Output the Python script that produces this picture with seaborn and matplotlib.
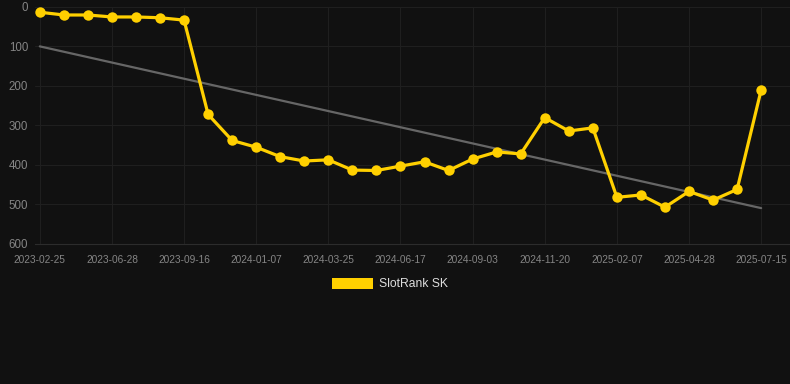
import numpy as np
import pandas as pd
import matplotlib
matplotlib.use("Agg")
import matplotlib.pyplot as plt
import seaborn as sns
from matplotlib.patches import Patch

# ---- data ----
ranks = [14, 21, 21, 26, 26, 28, 34, 273, 339, 356, 380, 391, 388, 414, 415,
         404, 393, 415, 386, 368, 373, 281, 315, 307, 483, 477, 508, 468, 490,
         463, 211]
tick_labels = ["2023-02-25", "2023-06-28", "2023-09-16", "2024-01-07",
               "2024-03-25", "2024-06-17", "2024-09-03", "2024-11-20",
               "2025-02-07", "2025-04-28", "2025-07-15"]
y_ticks = [0, 100, 200, 300, 400, 500, 600]
series_name = "SlotRank SK"

BG = "#111111"
GOLD = "#FFD000"
GRID = "#1f1f1f"
TXT = "#858585"

df = pd.DataFrame({"idx": np.arange(len(ranks)), "rank": ranks})

sns.set_theme(style="dark")
plt.rcParams["font.family"] = ["Liberation Sans", "DejaVu Sans"]

fig = plt.figure(figsize=(7.9, 3.84), dpi=100, facecolor=BG)
ax = fig.add_axes([35 / 790, 1 - 243.5 / 384, 755 / 790, (243.5 - 6.7) / 384])
ax.set_facecolor(BG)

sns.regplot(data=df, x="idx", y="rank", ax=ax, scatter=False, ci=None,
            line_kws=dict(color="#666666", lw=1.6, zorder=2))
sns.lineplot(data=df, x="idx", y="rank", ax=ax, color=GOLD, lw=2.3,
             marker="o", markersize=7.5, markeredgewidth=0, zorder=3)

ax.set_ylim(600, 0)
ax.set_xlim(-0.2, 31.2)
ax.set_yticks(y_ticks)
ax.set_yticklabels([str(v) for v in y_ticks], fontsize=8.3, color=TXT)
tick_pos = list(range(0, len(ranks), 3))
ax.set_xticks(tick_pos)
ax.set_xticklabels(tick_labels, fontsize=7.3, color=TXT)
ax.set_xlabel("")
ax.set_ylabel("")
ax.grid(True, color=GRID, lw=0.8)
ax.tick_params(axis="x", length=5, color=GRID, pad=3)
ax.tick_params(axis="y", length=0, pad=5)
for s in ax.spines.values():
    s.set_visible(False)
ax.spines["bottom"].set_visible(True)
ax.spines["bottom"].set_color("#2c2c2c")
ax.spines["bottom"].set_linewidth(0.8)

handle = Patch(facecolor=GOLD, edgecolor="none", label=series_name)
leg = fig.legend(handles=[handle], loc="center", bbox_to_anchor=(390 / 790, 1 - 284 / 384),
                 frameon=False, fontsize=8.7, handlelength=3.4, handleheight=1.0,
                 handletextpad=0.5, labelcolor="#dddddd")

fig.savefig("out.png", dpi=100, facecolor=BG)
